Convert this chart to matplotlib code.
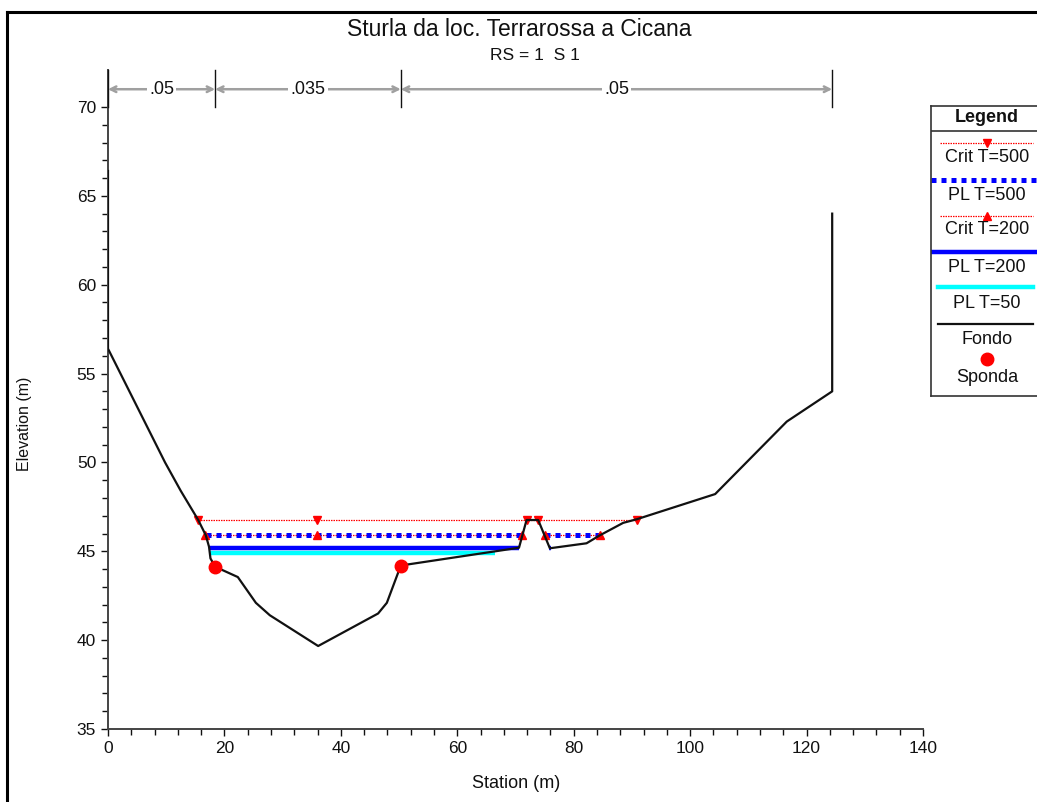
import matplotlib.pyplot as plt
import numpy as np
from matplotlib.lines import Line2D

plt.rcParams["font.family"] = ["Liberation Sans", "DejaVu Sans"]

# ground profile (Fondo)
STATION = [0, 0, 9.8, 12.5, 15.5, 16.8, 17.35, 17.6, 18.4, 22.3, 25.4, 27.8, 36.1,
           46.4, 47.9, 50.3, 70.6, 71.9, 73.9, 75.9, 82.2, 84.5, 88.5, 90.8,
           104.3, 116.6, 124.4, 124.4]
ELEV = [66.4, 56.4, 50.0, 48.4, 46.76, 45.9, 45.26, 44.6, 44.13, 43.55, 42.1, 41.4, 39.67,
        41.5, 42.1, 44.2, 45.2, 46.76, 46.76, 45.17, 45.45, 45.9, 46.6, 46.8,
        48.22, 52.3, 54.0, 64.0]

# bank stations (Sponda)
BANK_X = [18.4, 50.3]
BANK_Y = [44.13, 44.2]

# water surfaces
CRIT500_X = [15.5, 90.8]
CRIT500_Y = 46.76
CRIT500_MARKS = [15.5, 35.9, 71.9, 73.9, 90.8]

PL500_SEGS = [(16.8, 71.1), (75.1, 84.5)]
PL500_Y = 45.9

CRIT200_SEGS = [(16.7, 71.2), (75.1, 84.5)]
CRIT200_Y = 45.9
CRIT200_MARKS = [16.7, 35.9, 71.2, 75.1, 84.5]

PL200_SEGS = [(17.3, 70.6), (75.7, 76.1)]
PL200_Y = 45.2

PL50_SEGS = [(17.4, 66.5)]
PL50_Y = 44.9

# Manning's n zones
N_BREAKS = [0, 18.4, 50.3, 124.4]
N_VALUES = [".05", ".035", ".05"]

RED = "#FF0000"
BLUE = "#0000FF"
CYAN = "#00FFFF"
ARROW = "#A0A0A0"
INK = "#111111"

W, H = 1037, 802
fig = plt.figure(figsize=(W / 100, H / 100), dpi=100)
ax = fig.add_axes([108 / W, 1 - 729 / H, (923 - 108) / W, (729 - 70) / H])

ymax = 70 + 37 / 17.77
ax.set_xlim(0, 140)
ax.set_ylim(35, ymax)

dots = (0, (1, 1))
crit_style = (0, (1.2, 0.8))

# PL T=50
for a, b in PL50_SEGS:
    ax.plot([a, b], [PL50_Y, PL50_Y], color=CYAN, lw=3.2, solid_capstyle="butt", zorder=2)
# PL T=200
for a, b in PL200_SEGS:
    ax.plot([a, b], [PL200_Y, PL200_Y], color=BLUE, lw=3.2, solid_capstyle="butt", zorder=3)
# Crit T=200
for a, b in CRIT200_SEGS:
    ax.plot([a, b], [CRIT200_Y, CRIT200_Y], color=RED, lw=0.9, ls=crit_style, zorder=4)
ax.plot(CRIT200_MARKS, [CRIT200_Y] * len(CRIT200_MARKS), ls="none", marker="^",
        color=RED, ms=6, zorder=6)
# PL T=500
for a, b in PL500_SEGS:
    ax.plot([a, b], [PL500_Y, PL500_Y], color=BLUE, lw=3.6, ls=dots,
            dash_capstyle="butt", zorder=5)
# Crit T=500
ax.plot(CRIT500_X, [CRIT500_Y, CRIT500_Y], color=RED, lw=0.9, ls=crit_style, zorder=4)
ax.plot(CRIT500_MARKS, [CRIT500_Y] * len(CRIT500_MARKS), ls="none", marker="v",
        color=RED, ms=6, zorder=6)

# ground
ax.plot(STATION, ELEV, color=INK, lw=1.6, zorder=7)
ax.plot(BANK_X, BANK_Y, ls="none", marker="o", color=RED, ms=9, zorder=8)

# Manning's n annotation
arrow_y = 71.0
for xb in N_BREAKS:
    ax.plot([xb, xb], [70.0, ymax], color=INK, lw=1.0, clip_on=False, zorder=5)
for (a, b), label in zip(zip(N_BREAKS[:-1], N_BREAKS[1:]), N_VALUES):
    ax.annotate("", xy=(a, arrow_y), xytext=(b, arrow_y),
                arrowprops=dict(arrowstyle="<->", color=ARROW, lw=1.8,
                                shrinkA=0, shrinkB=0, mutation_scale=10))
    ax.text((a + b) / 2, arrow_y, label, ha="center", va="center", fontsize=13,
            color=INK, bbox=dict(facecolor="white", edgecolor="none", pad=1.5), zorder=6)

ax.set_xticks(np.arange(0, 141, 20))
ax.set_xticks(np.arange(0, 141, 4), minor=True)
ax.set_yticks(np.arange(35, 71, 5))
ax.set_yticks(np.arange(35, 71, 1), minor=True)
ax.tick_params(axis="both", which="major", length=5, width=1, color=INK, labelsize=12.5,
               labelcolor=INK)
ax.tick_params(axis="both", which="minor", length=4, width=1, color=INK)
for side in ["top", "right"]:
    ax.spines[side].set_visible(False)
for side in ["left", "bottom"]:
    ax.spines[side].set_color("#444444")
    ax.spines[side].set_linewidth(1.4)

ax.set_xlabel("Station (m)", fontsize=13, color=INK)
ax.set_ylabel("Elevation (m)", fontsize=11.5, color=INK)
ax.xaxis.set_label_coords((516 - 108) / 815, (729 - 784) / 659)
ax.yaxis.set_label_coords((25 - 108) / 815, (729 - 424) / 659)
ax.xaxis.label.set_va("center")
ax.yaxis.label.set_va("center")

fig.text(519 / W, 1 - 30 / H, "Sturla da loc. Terrarossa a Cicana", ha="center",
         va="center", fontsize=16.5, color=INK)
fig.text(535 / W, 1 - 55 / H, "RS = 1  S 1", ha="center", va="center",
         fontsize=12.5, color=INK)

# outer frame
fig.add_artist(Line2D([7 / W, 7 / W], [0, 1 - 12 / H], color="black", lw=2.2))
fig.add_artist(Line2D([7 / W, 1], [1 - 12 / H, 1 - 12 / H], color="black", lw=2.2))

# legend box
lg = fig.add_axes([931 / W, 1 - 396 / H, (W - 931) / W, (396 - 106) / H])
lg.set_xlim(931, W)
lg.set_ylim(396, 106)
lg.set_xticks([])
lg.set_yticks([])
lg.spines["right"].set_visible(False)
for side in ["left", "top", "bottom"]:
    lg.spines[side].set_color("#333333")
    lg.spines[side].set_linewidth(1.2)
cx = 987
fs = 13
lg.text(cx, 117, "Legend", ha="center", va="center", fontsize=fs, weight="bold", color=INK)
lg.plot([931, W], [131, 131], color="#333333", lw=1.2)

lg.plot([940, W - 4], [143, 143], color=RED, lw=0.9, ls=crit_style)
lg.plot([cx], [143], marker="v", color=RED, ms=6)
lg.text(cx, 158, "Crit T=500", ha="center", va="center", fontsize=fs, color=INK)

lg.plot([931, W], [180, 180], color=BLUE, lw=3.6, ls=dots, dash_capstyle="butt")
lg.text(cx, 196, "PL T=500", ha="center", va="center", fontsize=fs, color=INK)

lg.plot([940, W - 4], [216, 216], color=RED, lw=0.9, ls=crit_style)
lg.plot([cx], [216], marker="^", color=RED, ms=6)
lg.text(cx, 230, "Crit T=200", ha="center", va="center", fontsize=fs, color=INK)

lg.plot([931, W], [252, 252], color=BLUE, lw=3.2)
lg.text(cx, 268, "PL T=200", ha="center", va="center", fontsize=fs, color=INK)

lg.plot([938, W - 4], [287, 287], color=CYAN, lw=3.2)
lg.text(cx, 303, "PL T=50", ha="center", va="center", fontsize=fs, color=INK)

lg.plot([938, W - 4], [324, 324], color=INK, lw=1.6)
lg.text(cx, 340, "Fondo", ha="center", va="center", fontsize=fs, color=INK)
lg.plot([cx], [359], marker="o", color=RED, ms=9)
lg.text(cx, 377, "Sponda", ha="center", va="center", fontsize=fs, color=INK)

fig.savefig("out.png", dpi=100, facecolor="white")
